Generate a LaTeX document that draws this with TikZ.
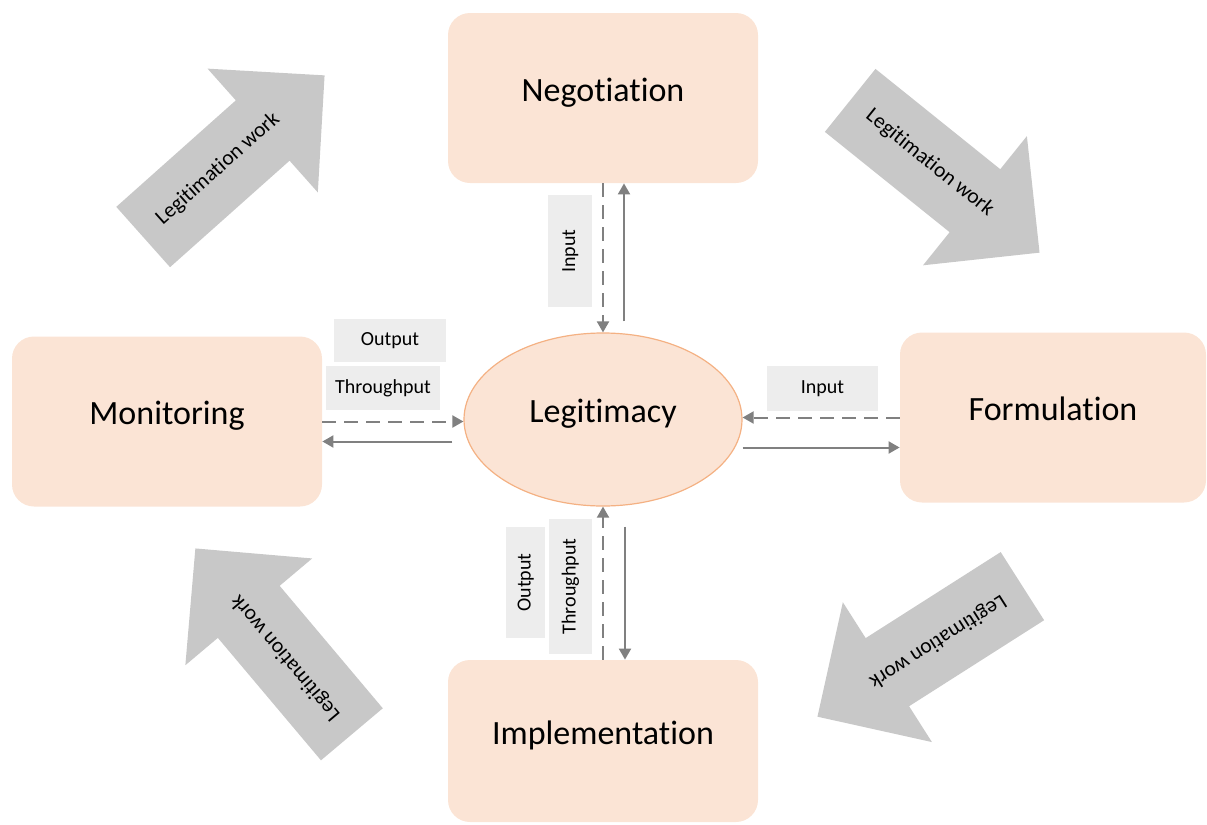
\documentclass[tikz,border=0pt]{standalone}
\usepackage{fontspec}
\setmainfont{Carlito}[Ligatures=NoCommon]
\usetikzlibrary{arrows.meta,shapes.geometric,shapes.arrows}
\definecolor{PhasePeach}{RGB}{251,228,213}
\definecolor{PhaseEdge}{RGB}{244,177,131}
\definecolor{FlowGray}{RGB}{128,128,128}
\definecolor{LabelGray}{RGB}{237,237,237}
\definecolor{WorkGray}{RGB}{200,200,200}
\tikzset{
  phasebox/.style={fill=PhasePeach, rounded corners=11pt, inner sep=0pt,
    minimum width=155pt, minimum height=85pt,
    font=\fontsize{17}{20}\selectfont, text height=12pt, text depth=9pt},
  legellipse/.style={ellipse, draw=PhaseEdge, line width=0.6pt, fill=PhasePeach,
    inner sep=0pt, minimum width=139pt, minimum height=86.5pt,
    font=\fontsize{17}{20}\selectfont, text height=12pt, text depth=9pt},
  flowarrow/.style={-{Triangle[width=6pt,length=5.5pt]}, line width=1pt, draw=FlowGray},
  dashflow/.style={flowarrow, dash pattern=on 7pt off 4pt},
  flowlabel/.style={fill=LabelGray, inner sep=0pt, font=\fontsize{10}{12}\selectfont,
    text height=7pt, text depth=2pt},
  workarrow/.style={single arrow, fill=WorkGray, anchor=tip,
    single arrow head extend=21.25pt, minimum height=121.5pt,
    inner xsep=4pt, inner ysep=15.25pt, text height=7pt, text depth=2.5pt,
    font=\fontsize{10.75}{12}\selectfont}
}
\begin{document}
\begin{tikzpicture}[x=0.5pt, y=-0.5pt]
  \useasboundingbox (0,0) rectangle (1207,825);
  % phases round the centre
  \node[phasebox] (nego) at (603,98) {Negotiation};
  \node[phasebox] (moni) at (167,421.5) {Monitoring};
  \node[phasebox, minimum width=153pt] (form) at (1053,417.5) {Formulation};
  \node[phasebox, minimum height=81pt] (impl) at (603,741) {Implementation};
  \node[legellipse] (legit) at (603,419.5) {Legitimacy};
  % legitimation work
  \node[workarrow, rotate=41.7] (workmn) at (325,75) {Legitimation work};
  \node[workarrow, rotate=-38.8] (worknf) at (1040,253) {Legitimation work};
  \node[workarrow, rotate=212.5] (workfi) at (817,717) {Legitimation work};
  \node[workarrow, rotate=130.1] (workim) at (195,548) {Legitimation work};
  % flows to and from legitimacy
  \draw[dashflow] (nego.south) -- (legit.north);
  \draw[flowarrow] ([xshift=10.5pt,yshift=5.5pt]legit.north) -- ([xshift=10.5pt]nego.south);
  \draw[dashflow] (moni.east) -- (moni.east -| legit.west);
  \draw[flowarrow] ([xshift=-5.5pt,yshift=-11pt]legit.west) -- ([yshift=-11pt]legit.west -| moni.east);
  \draw[dashflow] (form.west) -- (form.west -| legit.east);
  \draw[flowarrow] ([yshift=-14pt]legit.east) -- ([yshift=-14pt]legit.east -| form.west);
  \draw[dashflow] (impl.north) -- (legit.south);
  \draw[flowarrow] ([xshift=11pt,yshift=-10pt]legit.south) -- ([xshift=11pt]impl.north);
  % flow labels
  \node[flowlabel, minimum width=56pt, minimum height=22pt, rotate=90] (negin) at (570,251) {Input};
  \node[flowlabel, minimum width=56pt, minimum height=21.5pt] (monout) at (390,340.5) {Output};
  \node[flowlabel, minimum width=57pt, minimum height=22pt] (monthr) at (383,388) {Throughput};
  \node[flowlabel, minimum width=55.5pt, minimum height=22.5pt] (formin) at (822.5,388.5) {Input};
  \node[flowlabel, minimum width=55.5pt, minimum height=19.5pt, rotate=90] (impout) at (525.5,582.5) {Output};
  \node[flowlabel, minimum width=67.5pt, minimum height=21.5pt, rotate=90] (impthr) at (570.5,586.5) {Throughput};
\end{tikzpicture}
\end{document}
